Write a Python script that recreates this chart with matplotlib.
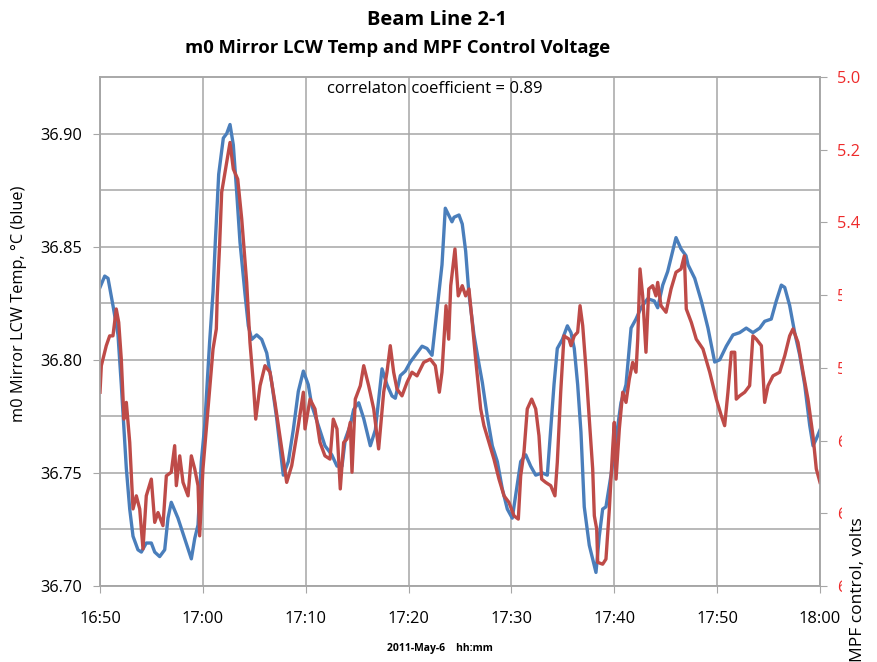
import matplotlib
matplotlib.use('Agg')
import matplotlib.pyplot as plt
from matplotlib.patches import Rectangle
import numpy as np

plt.rcParams['font.family'] = ['Open Sans', 'DejaVu Sans']

# minutes after 16:50, 2011-May-6
temp_minutes = [0.0, 0.46, 0.78, 1.26, 1.75, 2.07, 2.33, 2.56, 2.89, 3.21, 3.69, 4.02, 4.50, 4.99,
                5.32, 5.80, 6.29, 6.61, 6.93, 7.58, 8.23, 8.88, 9.21, 9.53, 9.85, 10.18, 10.66,
                10.99, 11.21, 11.54, 11.99, 12.32, 12.64, 12.96, 13.29, 13.61, 14.10, 14.42,
                14.75, 15.23, 15.72, 16.21, 16.69, 17.18, 17.82, 18.31, 18.79, 19.28, 19.77,
                20.25, 20.58, 21.22, 21.87, 22.53, 23.04, 23.53, 23.85, 24.33, 24.66, 25.15,
                25.64, 26.28, 26.77, 27.42, 27.90, 28.39, 28.71, 29.20, 29.68, 30.17, 30.82,
                31.31, 31.79, 32.28, 32.93, 33.25, 33.57, 33.90, 34.22, 34.42, 34.90, 35.22,
                35.55, 35.87, 36.36, 36.85, 37.17, 37.65, 38.14, 38.63, 39.11, 39.60, 40.08,
                40.41, 40.90, 41.39, 41.87, 42.36, 43.00, 43.49, 43.82, 44.14, 44.46, 44.95,
                45.44, 45.79, 46.11, 46.44, 46.76, 47.08, 47.57, 48.22, 48.54, 48.87, 49.19,
                49.68, 50.17, 50.65, 51.14, 51.63, 52.11, 52.60, 53.25, 53.89, 54.22, 54.71,
                55.19, 55.68, 56.00, 56.49, 56.97, 57.17, 57.82, 58.46, 59.11, 59.76, 60.25,
                60.89, 61.54, 62.19, 62.83, 63.48, 64.14, 64.62, 65.26, 65.75, 66.24, 66.57,
                67.05, 67.54, 68.03, 68.51, 69.00, 69.32, 69.64, 70.0]
temp_values = [36.832, 36.837, 36.836, 36.824, 36.811, 36.789, 36.769, 36.752, 36.734, 36.722,
               36.716, 36.715, 36.719, 36.719, 36.715, 36.713, 36.716, 36.730, 36.737, 36.730,
               36.721, 36.712, 36.721, 36.727, 36.755, 36.771, 36.808, 36.830, 36.852, 36.882,
               36.898, 36.900, 36.904, 36.895, 36.874, 36.852, 36.829, 36.815, 36.809, 36.811,
               36.809, 36.803, 36.790, 36.774, 36.749, 36.755, 36.769, 36.786, 36.795, 36.789,
               36.780, 36.771, 36.762, 36.758, 36.753, 36.753, 36.765, 36.771, 36.778, 36.781,
               36.774, 36.762, 36.769, 36.796, 36.789, 36.784, 36.783, 36.793, 36.795, 36.799,
               36.803, 36.806, 36.805, 36.802, 36.829, 36.842, 36.867, 36.864, 36.861, 36.863,
               36.864, 36.860, 36.848, 36.829, 36.811, 36.798, 36.790, 36.775, 36.762, 36.755,
               36.743, 36.734, 36.730, 36.740, 36.755, 36.758, 36.753, 36.749, 36.750, 36.749,
               36.769, 36.789, 36.805, 36.809, 36.815, 36.812, 36.805, 36.789, 36.768, 36.735,
               36.718, 36.706, 36.722, 36.734, 36.735, 36.749, 36.765, 36.781, 36.789, 36.814,
               36.818, 36.823, 36.827, 36.826, 36.823, 36.833, 36.839, 36.848, 36.854, 36.849,
               36.846, 36.842, 36.836, 36.826, 36.814, 36.799, 36.800, 36.806, 36.811, 36.812,
               36.814, 36.812, 36.814, 36.817, 36.818, 36.826, 36.833, 36.832, 36.824, 36.812,
               36.802, 36.789, 36.771, 36.762, 36.765, 36.769]

volt_minutes = [0.0, 0.13, 0.61, 0.94, 1.26, 1.58, 1.82, 2.07, 2.33, 2.56, 2.89, 3.21, 3.53, 3.86,
                4.18, 4.50, 4.99, 5.32, 5.64, 6.12, 6.45, 6.93, 7.26, 7.42, 7.75, 8.07, 8.56,
                8.88, 9.21, 9.53, 9.69, 10.01, 10.50, 10.99, 11.31, 11.40, 11.64, 11.83, 12.32,
                12.64, 12.96, 13.39, 13.78, 14.26, 14.58, 14.90, 15.14, 15.56, 16.04, 16.53,
                17.01, 17.67, 18.15, 18.64, 19.28, 19.77, 19.93, 20.42, 20.90, 21.39, 21.87,
                22.36, 22.68, 23.04, 23.36, 23.69, 24.01, 24.33, 24.50, 24.82, 25.31, 25.64,
                26.12, 26.61, 27.09, 27.58, 27.90, 28.22, 28.55, 28.87, 29.36, 29.85, 30.33,
                30.82, 31.47, 32.11, 32.60, 32.99, 33.25, 33.64, 33.90, 34.10, 34.51, 34.83,
                35.22, 35.55, 35.87, 36.19, 36.52, 37.01, 37.33, 37.82, 38.30, 38.79, 39.28,
                39.76, 40.25, 40.67, 40.90, 41.22, 41.54, 41.97, 42.36, 42.68, 42.94, 43.33,
                43.82, 44.23, 44.46, 44.79, 45.11, 45.60, 45.79, 46.11, 46.44, 46.67, 46.93,
                47.25, 47.57, 47.90, 48.06, 48.29, 48.39, 48.87, 49.19, 49.52, 49.84, 50.00,
                50.17, 50.49, 50.82, 51.14, 51.46, 51.79, 52.11, 52.28, 52.50, 52.76, 53.08,
                53.35, 53.73, 54.05, 54.22, 54.54, 55.03, 55.52, 56.00, 56.49, 56.81, 57.00,
                57.49, 57.97, 58.62, 59.28, 59.92, 60.41, 60.73, 61.05, 61.38, 61.71, 61.86,
                62.19, 62.68, 63.16, 63.48, 63.81, 64.30, 64.62, 64.95, 65.43, 66.08, 66.57,
                67.05, 67.37, 67.86, 68.35, 68.83, 69.32, 69.64, 70.0]
volt_values = [5.867, 5.794, 5.739, 5.712, 5.712, 5.638, 5.675, 5.776, 5.941, 5.895, 6.005, 6.188,
               6.152, 6.188, 6.298, 6.152, 6.106, 6.225, 6.198, 6.234, 6.097, 6.087, 6.014, 6.124,
               6.042, 6.115, 6.152, 6.042, 6.078, 6.124, 6.262, 6.078, 5.913, 5.748, 5.693, 5.602,
               5.455, 5.317, 5.235, 5.180, 5.253, 5.281, 5.391, 5.565, 5.730, 5.840, 5.941, 5.849,
               5.794, 5.812, 5.895, 6.023, 6.115, 6.069, 5.959, 5.867, 5.968, 5.886, 5.913, 6.005,
               6.042, 6.051, 5.941, 5.968, 6.133, 6.005, 5.996, 5.950, 6.087, 5.886, 5.849, 5.794,
               5.849, 5.913, 6.023, 5.867, 5.812, 5.739, 5.812, 5.858, 5.877, 5.840, 5.812, 5.822,
               5.785, 5.776, 5.794, 5.867, 5.812, 5.629, 5.721, 5.574, 5.473, 5.602, 5.574, 5.602,
               5.583, 5.675, 5.776, 5.913, 5.959, 6.005, 6.051, 6.106, 6.152, 6.170, 6.207, 6.216,
               6.097, 6.032, 5.913, 5.886, 5.913, 5.987, 6.106, 6.115, 6.124, 6.152, 6.060, 5.867,
               5.712, 5.721, 5.739, 5.712, 5.702, 5.629, 5.684, 5.803, 5.941, 6.078, 6.207, 6.243,
               6.335, 6.340, 6.326, 6.188, 6.023, 5.950, 6.106, 5.968, 5.867, 5.895, 5.831, 5.785,
               5.812, 5.721, 5.528, 5.602, 5.757, 5.583, 5.574, 5.602, 5.565, 5.629, 5.647, 5.583,
               5.537, 5.528, 5.492, 5.638, 5.675, 5.721, 5.748, 5.812, 5.886, 5.932, 5.959, 5.867,
               5.757, 5.757, 5.886, 5.877, 5.867, 5.849, 5.712, 5.721, 5.739, 5.895, 5.849, 5.822,
               5.812, 5.767, 5.712, 5.693, 5.730, 5.812, 5.886, 5.987, 6.078, 6.115]

time_ticks = [0, 10, 20, 30, 40, 50, 60, 70]
time_labels = ['16:50', '17:00', '17:10', '17:20', '17:30', '17:40', '17:50', '18:00']
temp_ticks = [36.70, 36.75, 36.80, 36.85, 36.90]
temp_grid = [36.725, 36.775, 36.825, 36.875]
volt_ticks = [5.0, 5.2, 5.4, 5.6, 5.8, 6.0, 6.2, 6.4]
# only the first three volt labels fit on the page, the rest are cut to one glyph
volt_labels = ['5.0', '5.2', '5.4', '5', '5', '6', '6', '6']

blue = '#4a7ebb'
red = '#be4b48'
grey = '#a6a6a6'

fig = plt.figure(figsize=(8.77, 6.62), dpi=100)
ax = fig.add_axes([100 / 877, 1 - 586 / 662, 720 / 877, 509 / 662])
ax2 = ax.twinx()

ax.plot(temp_minutes, temp_values, color=blue, lw=2.4, solid_joinstyle='round')
ax2.plot(volt_minutes, volt_values, color=red, lw=2.4, solid_joinstyle='round')

ax.set_xlim(0, 70)
ax.set_ylim(36.70, 36.925)
ax2.set_ylim(6.4, 5.0)

ax.set_xticks(time_ticks)
ax.set_xticklabels(time_labels, fontsize=11.8)
ax.set_yticks(temp_ticks)
ax.set_yticklabels(['%.2f' % v for v in temp_ticks], fontsize=11.8)
ax.set_yticks(temp_grid, minor=True)
ax2.set_yticks(volt_ticks)
ax2.set_yticklabels(volt_labels, fontsize=11.8, color='#ee2a2a')

ax.grid(True, which='both', color=grey, lw=1.1)
ax.set_axisbelow(True)
ax.tick_params(axis='y', which='major', direction='out', length=5, color=grey, pad=8)
ax.tick_params(axis='x', which='major', direction='out', length=5, color=grey, pad=13)
ax.tick_params(which='minor', length=0)
ax2.tick_params(direction='out', length=5, color=grey, pad=7)
for a in (ax, ax2):
    for s in a.spines.values():
        s.set_color(grey)
        s.set_linewidth(1.1)

fig.text(19 / 877, 1 - 304 / 662, 'm0 Mirror LCW Temp, °C (blue)', rotation=90,
         ha='center', va='center', fontsize=11.8)
fig.text(435 / 877, 1 - 89 / 662, 'correlaton coefficient = 0.89', ha='center',
         va='center', fontsize=12)

fig.text(437 / 877, 1 - 20 / 662, 'Beam Line 2-1', ha='center', va='center',
         fontsize=14.5, fontweight='bold')
fig.text(398 / 877, 1 - 48 / 662, 'm0 Mirror LCW Temp and MPF Control Voltage',
         ha='center', va='center', fontsize=13.3, fontweight='bold')
fig.text(440 / 877, 1 - 649 / 662, '2011-May-6    hh:mm', ha='center', va='center',
         fontsize=7.5, fontweight='bold')

# white strip over the lower right-hand labels
fig.patches.append(Rectangle((842 / 877, 0), 35 / 877, 1 - 262 / 662,
                             transform=fig.transFigure, facecolor='white',
                             edgecolor='none', zorder=5))
fig.text(858 / 877, 1 - 590 / 662, 'MPF control, volts', rotation=90, ha='center',
         va='center', fontsize=12.5, zorder=6)

fig.savefig('out.png', dpi=100)
